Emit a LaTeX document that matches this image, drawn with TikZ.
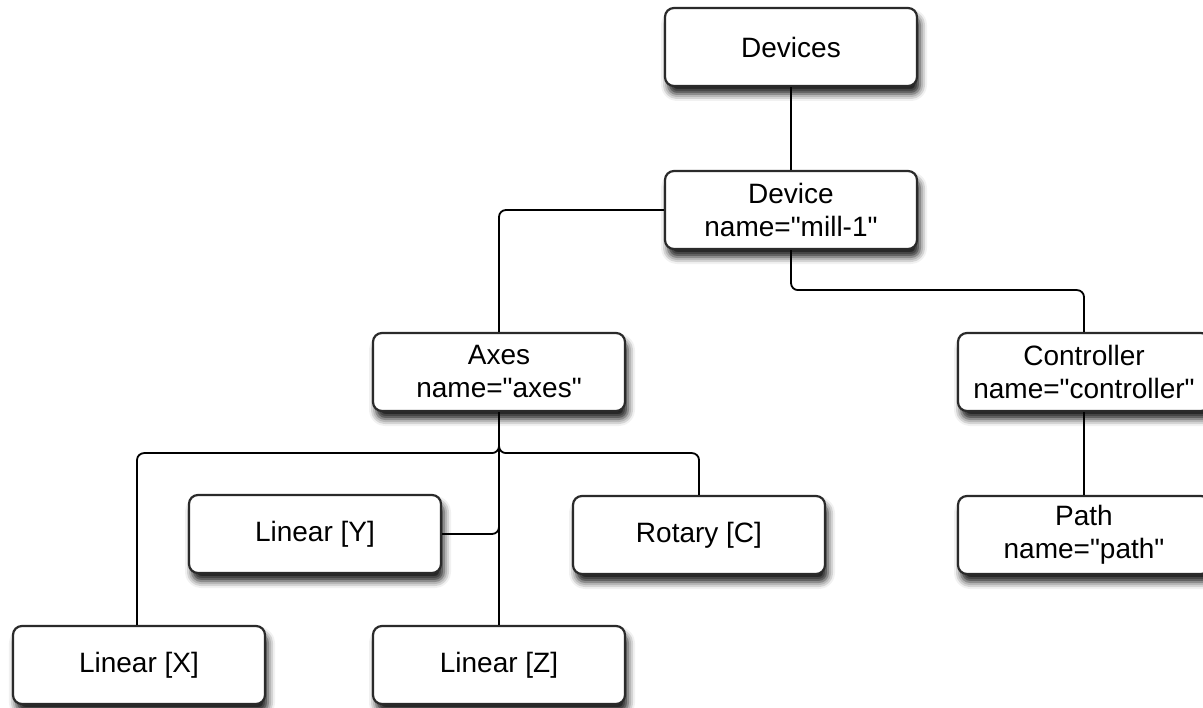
\documentclass[tikz,border=0pt]{standalone}
\usepackage{fontspec}
% family without TeX ligature mapping, so " stays a straight quote
\newfontfamily\labelfont{Liberation Sans}
\usetikzlibrary{shadows.blur}
\definecolor{boxline}{HTML}{2A2A2A}
\begin{document}
\begin{tikzpicture}[x=1pt,y=-1pt,
  box/.style={draw=boxline, line width=2.2pt, fill=white, rounded corners=9pt,
    minimum width=252pt, minimum height=78pt, inner sep=0pt, align=center,
    font=\labelfont\fontsize{28}{33}\selectfont, text=black,
    blur shadow={shadow xshift=3pt, shadow yshift=-8pt, shadow blur radius=7pt,
      shadow opacity=90}},
  link/.style={draw=black, line width=1.8pt, rounded corners=7pt}]
\useasboundingbox (0,0) rectangle (1203,708);
\clip (0,0) rectangle (1203,708);

% tree nodes
\node[box] (devices)    at (791,47)  {Devices};
\node[box] (device)     at (791,210) {Device\\name="mill-1"};
\node[box] (axes)       at (499,372) {Axes\\name="axes"};
\node[box] (controller) at (1084,372) {Controller\\name="controller"};
\node[box] (path)       at (1084,535) {Path\\name="path"};
\node[box] (liny)       at (315,534) {Linear [Y]};
\node[box] (rotc)       at (699,535) {Rotary [C]};
\node[box] (linx)       at (139,665) {Linear [X]};
\node[box] (linz)       at (499,665) {Linear [Z]};

% connectors
\draw[link] (devices.south) -- (device.north);
\draw[link] (device.west) -| (axes.north);
\draw[link] (device.south) -- ++(0,40) -| (controller.north);
\draw[link] (controller.south) -- (path.north);
\draw[link] (axes.south) -- ++(0,41) -| ([xshift=-2pt]linx.north);
\draw[link] (axes.south) -- ++(0,41) -| (rotc.north);
\draw[link] (axes.south) |- (liny.east);
\draw[link] (axes.south) -- (linz.north);
\end{tikzpicture}
\end{document}
